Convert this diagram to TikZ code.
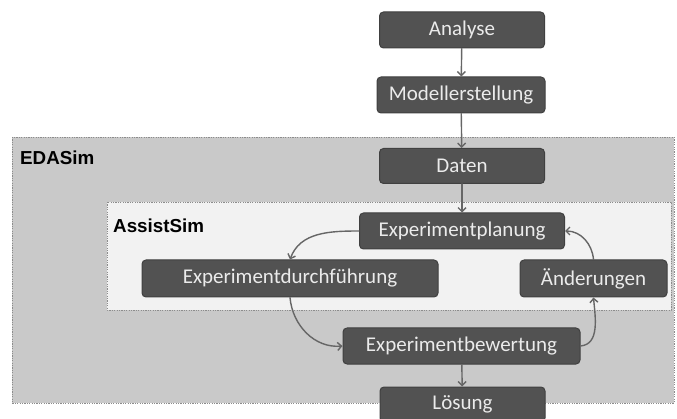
\documentclass[tikz,border=0pt]{standalone}
\usepackage{fontspec}
\usetikzlibrary{arrows.meta}
\setmainfont{Carlito}
\newfontfamily\labelfont{Liberation Sans}
\begin{document}
\begin{tikzpicture}[x=1pt, y=-1pt, line join=round, line cap=round, >={Straight Barb[length=4pt, width=8pt]}]
    \tikzset{box/.style={draw=black!75, fill=black!68, rounded corners=4pt, text=black!8, font=\fontsize{21}{24}\selectfont, minimum height=36pt, inner sep=0pt, line width=1pt},
        flow/.style={->, draw=black!60, line width=1.4pt},
        area/.style={draw=black!45, dash pattern=on 1.2pt off 1.2pt, line width=0.9pt, line cap=butt},
        area label/.style={font=\labelfont\bfseries\fontsize{18.8}{22}\selectfont, anchor=base west, inner sep=0pt}}
    \useasboundingbox (0,0) rectangle (677,419);
    \begin{scope}
        \clip (0,0) rectangle (677,419);
        % Bereiche
        \draw[area, fill=black!21] (12,137) rectangle (674,403);
        \draw[area, fill=black!5] (107,202) rectangle (671,310);
        \node[area label] (edasim) at (20,165) {EDASim};
        \node[area label] (assistsim) at (113,233) {AssistSim};
        % Schritte
        \node[box, minimum width=165pt] (analyse) at (462,30) {Analyse};
        \node[box, minimum width=168pt] (modell) at (461,95) {Modellerstellung};
        \node[box, minimum width=165pt, minimum height=35pt] (daten) at (462,166) {Daten};
        \node[box, minimum width=205pt] (planung) at (462,231) {Experimentplanung};
        \node[box, minimum width=296pt, minimum height=37pt] (durchf) at (290,278.5) {Experimentdurchführung};
        \node[box, minimum width=147pt, minimum height=37pt] (aenderung) at (593.5,278.5) {Änderungen};
        \node[box, minimum width=237pt] (bewertung) at (461.5,346) {Experimentbewertung};
        \node[box, minimum width=165pt, minimum height=35pt] (loesung) at (462.5,404.5) {Lösung};
    \end{scope}
    % Pfeile
    \draw[flow] (analyse) -- (modell);
    \draw[flow] (modell) -- (daten);
    \draw[flow] (daten) -- (planung);
    \draw[flow] (planung.west) to[out=180, in=70] (durchf.north);
    \draw[flow] (durchf.south) to[out=-85, in=185] (bewertung.west);
    \draw[flow] (bewertung.east) to[out=5, in=-85] (aenderung.south);
    \draw[flow] (aenderung.north) to[out=95, in=0] (planung.east);
    \draw[flow] (bewertung) -- (loesung);
\end{tikzpicture}
\end{document}
